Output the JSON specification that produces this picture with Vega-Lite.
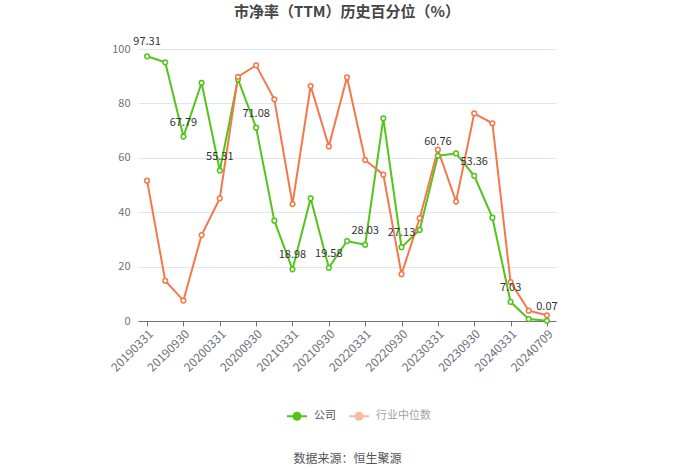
{
  "$schema": "https://vega.github.io/schema/vega-lite/v6.json",
  "width": 418,
  "height": 272,
  "autosize": {"type": "none"},
  "padding": {"left": 138, "top": 49, "right": 144, "bottom": 153},
  "background": "#ffffff",
  "title": {
    "text": "市净率（TTM）历史百分位（%）",
    "font": "Noto Sans CJK SC",
    "fontSize": 15,
    "fontWeight": "bold",
    "color": "#464646",
    "anchor": "middle",
    "offset": 16
  },
  "config": {
    "view": {"stroke": null},
    "font": "Noto Sans CJK SC"
  },
  "data": {
    "values": [
      {"date": "20190331", "series": "公司", "value": 97.31},
      {"date": "20190630", "series": "公司", "value": 95.1},
      {"date": "20190930", "series": "公司", "value": 67.79},
      {"date": "20191231", "series": "公司", "value": 87.6},
      {"date": "20200331", "series": "公司", "value": 55.31},
      {"date": "20200630", "series": "公司", "value": 88.9},
      {"date": "20200930", "series": "公司", "value": 71.08},
      {"date": "20201231", "series": "公司", "value": 36.9},
      {"date": "20210331", "series": "公司", "value": 18.98},
      {"date": "20210630", "series": "公司", "value": 45.1},
      {"date": "20210930", "series": "公司", "value": 19.58},
      {"date": "20211231", "series": "公司", "value": 29.4},
      {"date": "20220331", "series": "公司", "value": 28.03},
      {"date": "20220630", "series": "公司", "value": 74.5},
      {"date": "20220930", "series": "公司", "value": 27.13},
      {"date": "20221231", "series": "公司", "value": 33.5},
      {"date": "20230331", "series": "公司", "value": 60.76},
      {"date": "20230630", "series": "公司", "value": 61.6},
      {"date": "20230930", "series": "公司", "value": 53.36},
      {"date": "20231231", "series": "公司", "value": 38.0},
      {"date": "20240331", "series": "公司", "value": 7.03},
      {"date": "20240630", "series": "公司", "value": 0.7},
      {"date": "20240709", "series": "公司", "value": 0.07},
      {"date": "20190331", "series": "行业中位数", "value": 51.6},
      {"date": "20190630", "series": "行业中位数", "value": 14.8},
      {"date": "20190930", "series": "行业中位数", "value": 7.5},
      {"date": "20191231", "series": "行业中位数", "value": 31.6},
      {"date": "20200331", "series": "行业中位数", "value": 45.1},
      {"date": "20200630", "series": "行业中位数", "value": 89.8},
      {"date": "20200930", "series": "行业中位数", "value": 94.0},
      {"date": "20201231", "series": "行业中位数", "value": 81.5},
      {"date": "20210331", "series": "行业中位数", "value": 43.0},
      {"date": "20210630", "series": "行业中位数", "value": 86.4},
      {"date": "20210930", "series": "行业中位数", "value": 64.2},
      {"date": "20211231", "series": "行业中位数", "value": 89.6},
      {"date": "20220331", "series": "行业中位数", "value": 59.2},
      {"date": "20220630", "series": "行业中位数", "value": 53.8},
      {"date": "20220930", "series": "行业中位数", "value": 17.2},
      {"date": "20221231", "series": "行业中位数", "value": 37.8},
      {"date": "20230331", "series": "行业中位数", "value": 63.0},
      {"date": "20230630", "series": "行业中位数", "value": 43.9},
      {"date": "20230930", "series": "行业中位数", "value": 76.3},
      {"date": "20231231", "series": "行业中位数", "value": 72.7},
      {"date": "20240331", "series": "行业中位数", "value": 14.3},
      {"date": "20240630", "series": "行业中位数", "value": 3.8},
      {"date": "20240709", "series": "行业中位数", "value": 2.1}
    ]
  },
  "encoding": {
    "x": {
      "field": "date",
      "type": "ordinal",
      "sort": null,
      "scale": {"type": "point", "padding": 0.5},
      "axis": {
        "values": ["20190331", "20190930", "20200331", "20200930", "20210331", "20210930", "20220331", "20220930", "20230331", "20230930", "20240331", "20240709"],
        "labelAngle": -45,
        "labelAlign": "right",
        "labelBaseline": "top",
        "labelFontSize": 12,
        "labelColor": "#6e7079",
        "labelPadding": 2,
        "domainColor": "#6e7079",
        "tickColor": "#6e7079",
        "tickSize": 5,
        "grid": false,
        "title": "数据来源：恒生聚源",
        "titleFontSize": 12,
        "titleFontWeight": "normal",
        "titleColor": "#555555",
        "titleY": 137,
        "titleBaseline": "middle"
      }
    },
    "y": {
      "field": "value",
      "type": "quantitative",
      "scale": {"domain": [0, 100]},
      "axis": {
        "values": [0, 20, 40, 60, 80, 100],
        "title": null,
        "domain": false,
        "ticks": false,
        "labelFontSize": 11,
        "labelColor": "#6e7079",
        "labelPadding": 8,
        "gridColor": "#e0e6f1",
        "gridWidth": 1
      }
    },
    "color": {
      "field": "series",
      "type": "nominal",
      "scale": {"domain": ["公司", "行业中位数"], "range": ["#52c41a", "#f4784a"]},
      "legend": {
        "title": null,
        "orient": "none",
        "direction": "horizontal",
        "legendX": 148,
        "legendY": 356,
        "symbolType": "M-1,0H-0.35M0.35,0H1M0.35,0A0.35,0.35 0 1,1 -0.35,0A0.35,0.35 0 1,1 0.35,0",
        "symbolSize": 400,
        "symbolStrokeWidth": 2,
        "labelFontSize": 11,
        "labelColor": "#555555",
        "labelOffset": 6,
        "columnPadding": 9,
        "encode": {
          "symbols": {"update": {"fill": {"value": "#ffffff"}, "fillOpacity": {"value": 1}, "opacity": {"signal": "datum.value === '行业中位数' ? 0.5 : 1"}}},
          "labels": {"update": {"opacity": {"signal": "datum.value === '行业中位数' ? 0.55 : 1"}}}
        }
      }
    }
  },
  "layer": [
    {
      "mark": {"type": "line", "strokeWidth": 2}
    },
    {
      "mark": {"type": "point", "shape": "circle", "filled": true, "fill": "#ffffff", "size": 22, "strokeWidth": 1.5, "opacity": 1},
      "encoding": {
        "stroke": {"field": "series", "type": "nominal", "scale": {"domain": ["公司", "行业中位数"], "range": ["#52c41a", "#f4784a"]}, "legend": null}
      }
    },
    {
      "transform": [
        {"filter": "datum.series === '公司'"},
        {"window": [{"op": "row_number", "as": "idx"}]},
        {"filter": "(datum.idx - 1) % 2 === 0"}
      ],
      "mark": {"type": "text", "dy": -9, "fontSize": 11, "color": "#333333", "baseline": "bottom"},
      "encoding": {
        "text": {"field": "value", "type": "quantitative", "format": ".2f"},
        "color": {"value": "#333333"}
      }
    }
  ]
}
